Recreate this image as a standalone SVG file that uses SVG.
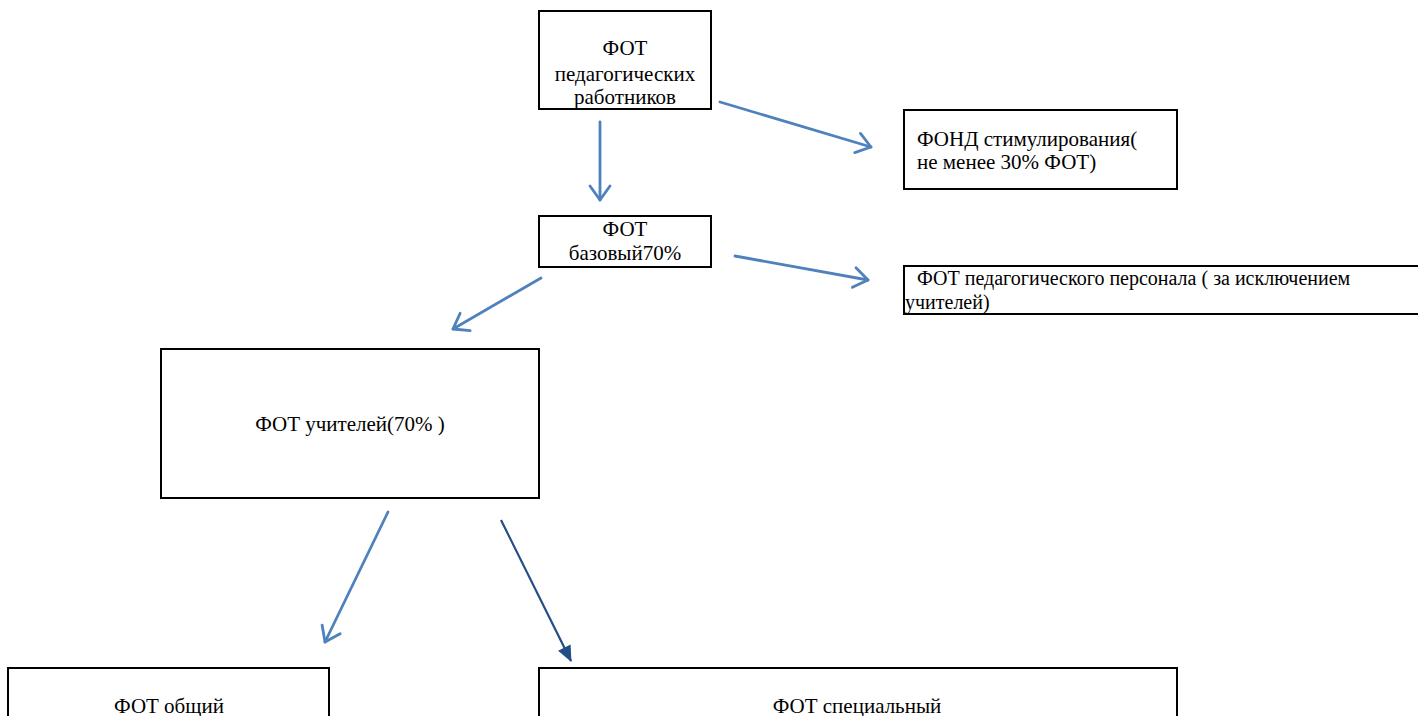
<svg xmlns="http://www.w3.org/2000/svg" width="1418" height="716" viewBox="0 0 1418 716">
<style>
.box{fill:#fff;stroke:#000;stroke-width:2}
.t{font-family:"Liberation Serif","Times New Roman",serif;font-size:21px;fill:#000}
.ts{font-family:"Liberation Serif","Times New Roman",serif;font-size:20px;fill:#000}
.c{text-anchor:middle}
.la{stroke:#4F81BD;stroke-width:2.8;fill:none;stroke-linecap:round;marker-end:url(#open)}
.da{stroke:#234D85;stroke-width:2.2;fill:none;marker-end:url(#solid)}
</style>
<defs>
<marker id="open" markerUnits="userSpaceOnUse" viewBox="0 0 18 24" refX="16" refY="12" markerWidth="18" markerHeight="24" orient="auto">
<path d="M2,2 L16,12 L2,22" fill="none" stroke="#4F81BD" stroke-width="2.8" stroke-linecap="round" stroke-linejoin="round"/>
</marker>
<marker id="solid" markerUnits="userSpaceOnUse" viewBox="0 0 16 14" refX="15" refY="7" markerWidth="16" markerHeight="14" orient="auto">
<path d="M0,0 L16,7 L0,14 Z" fill="#234D85"/>
</marker>
</defs>
<g id="connectors">
<line class="la" x1="720" y1="102" x2="871" y2="147"/>
<line class="la" x1="600" y1="122" x2="600" y2="200"/>
<line class="la" x1="735" y1="256" x2="868" y2="280"/>
<line class="la" x1="541" y1="278" x2="453" y2="329"/>
<line class="la" x1="388" y1="512" x2="325" y2="642"/>
<line class="da" x1="501" y1="520" x2="571" y2="661"/>
</g>
<g id="node-fot-ped">
<rect class="box" x="539" y="11" width="172" height="98"/>
<text class="t c" x="625" y="55">ФОТ</text>
<text class="t c" x="625" y="81">педагогических</text>
<text class="t c" x="625" y="104">работников</text>
</g>
<g id="node-fond">
<rect class="box" x="904" y="110" width="273" height="79"/>
<text class="t" x="917" y="146">ФОНД стимулирования(</text>
<text class="t" x="917" y="169">не менее 30% ФОТ)</text>
</g>
<g id="node-base">
<rect class="box" x="539" y="216" width="172" height="51"/>
<text class="t c" x="625" y="236">ФОТ</text>
<text class="t c" x="625" y="260">базовый70%</text>
</g>
<g id="node-ped-pers">
<rect class="box" x="904" y="266" width="520" height="48"/>
<text class="ts" x="917" y="285"> ФОТ педагогического персонала ( за исключением</text>
<text class="ts" x="905" y="309">учителей)</text>
</g>
<g id="node-teachers">
<rect class="box" x="161" y="349" width="378" height="149"/>
<text class="t c" x="350" y="431">ФОТ учителей(70% )</text>
</g>
<g id="node-general">
<rect class="box" x="8" y="668" width="321" height="60"/>
<text class="t c" x="169" y="713">ФОТ общий</text>
</g>
<g id="node-special">
<rect class="box" x="539" y="668" width="638" height="60"/>
<text class="t c" x="857" y="713">ФОТ специальный</text>
</g>
</svg>
